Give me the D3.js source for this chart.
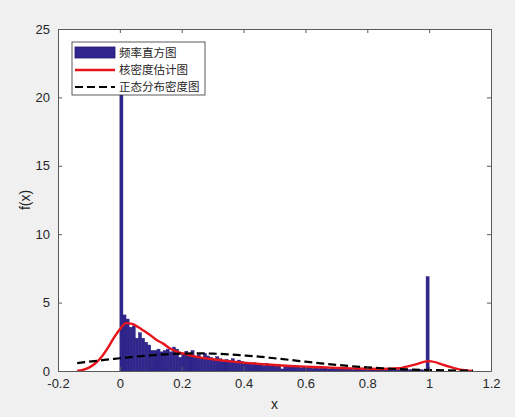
<!DOCTYPE html>
<html><head><meta charset="utf-8">
<script src="https://cdn.jsdelivr.net/npm/d3@7"></script>
<style>
html,body{margin:0;padding:0;background:#f0f0f0;}
svg{display:block;}
</style></head>
<body>
<svg id="chart" width="515" height="417"></svg>
<script>
// ---- data ----
const binWidth = 0.01;
const histStart = 0;
const histValues = [
 22, 4.1, 3.8, 3.2, 3.3, 2.4, 2.8, 2.4, 2.1, 1.9,
 1.5, 1.5, 1.6, 1.4, 1.5, 1.6, 1.4, 1.75, 1.6, 1.0,
 1.3, 1.45, 1.1, 1.5, 1.0, 1.2, 0.9, 1.3, 1.1, 1.0,
 0.8, 1.05, 0.9, 0.7, 0.85, 0.75, 0.9, 0.6, 0.8, 0.7,
 0.55, 0.6, 0.5, 0.6, 0.45, 0.5, 0.4, 0.55, 0.45, 0.4,
 0.35, 0.45, 0.15, 0.4, 0.35, 0.3, 0.35, 0.3, 0.25, 0.3,
 0.25, 0.3, 0.2, 0.25, 0.2, 0.2, 0.25, 0.15, 0.2, 0.2,
 0.15, 0.2, 0.15, 0.15, 0.2, 0.1, 0.15, 0.15, 0.1, 0.15,
 0.1, 0.15, 0.1, 0.1, 0.15, 0.1, 0.1, 0.1, 0.05, 0.1,
 0.1, 0.1, 0.05, 0.1, 0.1, 0.05, 0.1, 0.1, 0.05, 6.9
];
const kdeX = [-0.138,-0.12,-0.10,-0.08,-0.06,-0.04,-0.02,0.00,0.02,0.04,0.06,0.08,0.10,0.12,0.14,0.16,0.18,0.20,0.25,0.30,0.35,0.40,0.45,0.50,0.55,0.60,0.65,0.70,0.75,0.80,0.85,0.90,0.95,1.00,1.05,1.10,1.142];
const kdeY = [0.02,0.08,0.25,0.55,1.0,1.65,2.4,3.05,3.5,3.45,3.2,2.9,2.6,2.25,2.0,1.68,1.45,1.3,1.03,0.86,0.72,0.61,0.52,0.44,0.37,0.32,0.27,0.23,0.19,0.16,0.15,0.2,0.45,0.72,0.42,0.1,0.01];
const normX = [-0.138,-0.10,-0.05,0.00,0.05,0.10,0.15,0.20,0.25,0.30,0.35,0.40,0.45,0.50,0.55,0.60,0.65,0.70,0.75,0.80,0.85,0.90,0.95,1.00,1.05,1.10,1.142];
const normY = [0.58,0.68,0.81,0.93,1.05,1.14,1.22,1.27,1.29,1.27,1.22,1.14,1.05,0.93,0.81,0.68,0.56,0.45,0.35,0.27,0.20,0.14,0.10,0.07,0.05,0.03,0.02];
const xTicks = [-0.2,0,0.2,0.4,0.6,0.8,1,1.2];
const yTicks = [0,5,10,15,20,25];
const legendLabels = ["频率直方图","核密度估计图","正态分布密度图"];
const xLabel = "x";
const yLabel = "f(x)";

// ---- layout ----
const L = 58, R = 491, T = 29, B = 371;
const svg = d3.select("#chart");
const x = d3.scaleLinear().domain([-0.2,1.2]).range([L,R]);
const y = d3.scaleLinear().domain([0,25]).range([B,T]);

svg.append("rect").attr("x",L).attr("y",T).attr("width",R-L).attr("height",B-T).attr("fill","#fff");

svg.append("clipPath").attr("id","clip").append("rect")
  .attr("x",L).attr("y",T).attr("width",R-L).attr("height",B-T);
const plot = svg.append("g").attr("clip-path","url(#clip)");

// histogram bars
plot.selectAll("rect.bar").data(histValues).enter().append("rect")
  .attr("class","bar")
  .attr("x",(d,i)=>x(histStart+i*binWidth))
  .attr("width",(d,i)=>x(histStart+(i+1)*binWidth)-x(histStart+i*binWidth))
  .attr("y",d=>y(d))
  .attr("height",d=>y(0)-y(d))
  .attr("fill","#31268f")
  .attr("stroke","#221a6e")
  .attr("stroke-width",0.4);

// KDE line
const kde = kdeX.map((v,i)=>[v,kdeY[i]]);
plot.append("path").datum(kde)
  .attr("d",d3.line().x(d=>x(d[0])).y(d=>y(d[1])).curve(d3.curveMonotoneX))
  .attr("fill","none").attr("stroke","#e8141b").attr("stroke-width",2.4);

// normal line
const norm = normX.map((v,i)=>[v,normY[i]]);
plot.append("path").datum(norm)
  .attr("d",d3.line().x(d=>x(d[0])).y(d=>y(d[1])).curve(d3.curveMonotoneX))
  .attr("fill","none").attr("stroke","#000").attr("stroke-width",2.2)
  .attr("stroke-dasharray","8,4");

// axes
const axColor = "#5a5a5a";
const fontF = "'Liberation Sans', Arial, sans-serif";
const xAxis = svg.append("g").attr("transform",`translate(0,${B})`)
  .call(d3.axisBottom(x).tickValues(xTicks).tickSizeInner(-4).tickSizeOuter(0).tickPadding(8).tickFormat(d=>String(d)));
const yAxis = svg.append("g").attr("transform",`translate(${L},0)`)
  .call(d3.axisLeft(y).tickValues(yTicks).tickSizeInner(-4).tickSizeOuter(0).tickPadding(8).tickFormat(d=>String(d)));
const xTop = svg.append("g").attr("transform",`translate(0,${T})`)
  .call(d3.axisTop(x).tickValues(xTicks).tickSizeInner(-4).tickSizeOuter(0).tickFormat(""));
const yRight = svg.append("g").attr("transform",`translate(${R},0)`)
  .call(d3.axisRight(y).tickValues(yTicks).tickSizeInner(-4).tickSizeOuter(0).tickFormat(""));
[xAxis,yAxis,xTop,yRight].forEach(g=>{
  g.select(".domain").attr("stroke",axColor);
  g.selectAll(".tick line").attr("stroke",axColor);
  g.selectAll(".tick text").attr("fill","#262626").style("font-family",fontF).style("font-size","13px");
});

svg.append("text").attr("x",(L+R)/2).attr("y",409).attr("text-anchor","middle")
  .style("font-family",fontF).style("font-size","14px").attr("fill","#262626").text(xLabel);
svg.append("text").attr("transform",`translate(30,${(T+B)/2}) rotate(-90)`).attr("text-anchor","middle")
  .style("font-family",fontF).style("font-size","14px").attr("fill","#262626").text(yLabel);

// legend
const lg = svg.append("g");
lg.append("rect").attr("x",72).attr("y",42).attr("width",133).attr("height",53)
  .attr("fill","#fff").attr("stroke","#333").attr("stroke-width",0.8);
const rows = [53,70,87];
lg.append("rect").attr("x",75).attr("y",47).attr("width",40).attr("height",11)
  .attr("fill","#31268f").attr("stroke","#221a6e").attr("stroke-width",0.8);
lg.append("line").attr("x1",75).attr("x2",115).attr("y1",rows[1]).attr("y2",rows[1])
  .attr("stroke","#e8141b").attr("stroke-width",2.4);
lg.append("line").attr("x1",75).attr("x2",115).attr("y1",rows[2]).attr("y2",rows[2])
  .attr("stroke","#000").attr("stroke-width",2.2).attr("stroke-dasharray","8,4");
lg.selectAll("text.lab").data(legendLabels).enter().append("text")
  .attr("class","lab").attr("x",119).attr("y",(d,i)=>rows[i]+4)
  .style("font-family","'Noto Sans CJK SC', sans-serif").style("font-size","11.5px")
  .attr("fill","#262626").text(d=>d);
</script>
</body></html>
